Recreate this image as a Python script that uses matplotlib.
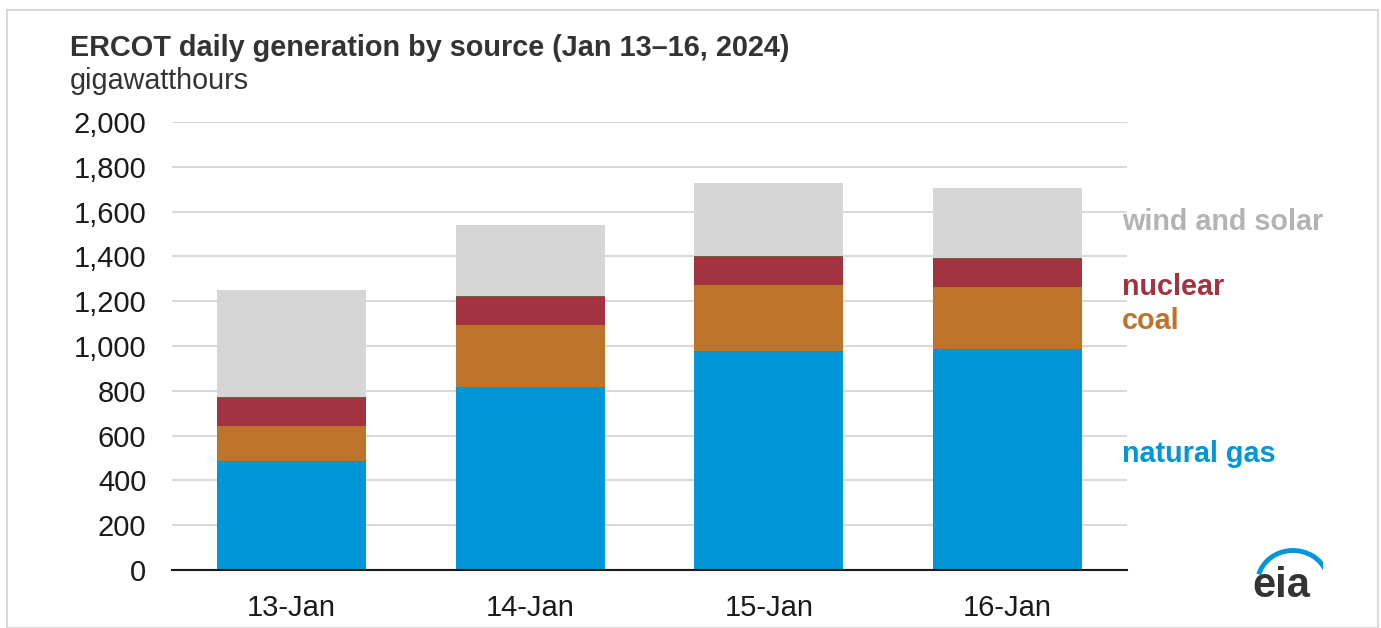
import matplotlib
matplotlib.use("Agg")
import matplotlib.pyplot as plt
from matplotlib.patches import Rectangle, Arc
import numpy as np

plt.rcParams['font.family'] = ['Liberation Sans', 'DejaVu Sans']

# data (GWh)
days = ["13-Jan", "14-Jan", "15-Jan", "16-Jan"]
natural_gas = [486, 817, 976, 985]
coal = [157, 277, 296, 278]
nuclear = [126, 123, 127, 124]
other = [4, 4, 5, 6]
wind_solar = [477, 318, 322, 312]
y_ticks = [0, 200, 400, 600, 800, 1000, 1200, 1400, 1600, 1800, 2000]

series = [
    ("natural gas", natural_gas, "#0096D7"),
    ("coal", coal, "#BD732A"),
    ("nuclear", nuclear, "#A33340"),
    ("other", other, "#6E6133"),
    ("wind and solar", wind_solar, "#D6D6D6"),
]

W, H = 1381, 628
fig = plt.figure(figsize=(W / 100, H / 100), dpi=100)
fig.patch.set_facecolor("white")

# outer frame
fig.patches.append(Rectangle((7 / W, 0), (W - 10) / W, (H - 10) / H,
                             transform=fig.transFigure, fill=False,
                             edgecolor="#D9D9D9", linewidth=1.5))

ax = fig.add_axes([172 / W, (H - 570) / H, (1127 - 172) / W, (570 - 122) / H])

x = np.arange(len(days))
bottom = np.zeros(len(days))
for name, vals, color in series:
    ax.bar(x, vals, bottom=bottom, width=0.625, color=color, zorder=3,
           linewidth=0)
    bottom += np.array(vals)

ax.set_xlim(-0.5, len(days) - 0.5)
ax.set_ylim(0, 2000)
ax.set_yticks(y_ticks)
ax.set_yticklabels([f"{v:,}" for v in y_ticks])
ax.set_xticks(x)
ax.set_xticklabels(days)
ax.tick_params(axis="both", length=0, labelsize=21, colors="#1A1A1A")
ax.tick_params(axis="y", pad=18.5)
ax.tick_params(axis="x", pad=17)
ax.grid(axis="y", color="#D9D9D9", linewidth=1.5, zorder=0)
for s in ["top", "right", "left"]:
    ax.spines[s].set_visible(False)
ax.spines["bottom"].set_color("#1A1A1A")
ax.spines["bottom"].set_linewidth(1.5)
ax.spines["bottom"].set_zorder(4)

# titles
fig.text(70 / W, 1 - 48 / H, "ERCOT daily generation by source (Jan 13\u201316, 2024)",
         fontsize=20.8, fontweight="bold", color="#333333", va="center")
fig.text(70 / W, 1 - 81 / H, "gigawatthours", fontsize=20.7, color="#333333",
         va="center")

# inline labels
labels = [
    ("wind and solar", 222, "#B3B3B3"),
    ("nuclear", 287, "#A33340"),
    ("coal", 321, "#BD732A"),
    ("natural gas", 454, "#0096D7"),
]
for text, ypix, color in labels:
    fig.text(1122 / W, 1 - ypix / H, text, fontsize=20.7, fontweight="bold",
             color=color, va="center")

# eia logo
fig.text(1281 / W, 1 - 586 / H, "eia", fontsize=30, fontweight="bold",
         color="#333333", ha="center", va="center")
lax = fig.add_axes([1248 / W, 1 - 600 / H, 75 / W, 55 / H])
lax.set_xlim(0, 1)
lax.set_ylim(0, 1)
lax.axis("off")
lax.add_patch(Arc((0.6, 0.3), 0.95, 1.2, theta1=25, theta2=160,
                  color="#0096D7", linewidth=3.5))

fig.savefig("out.png", dpi=100)
